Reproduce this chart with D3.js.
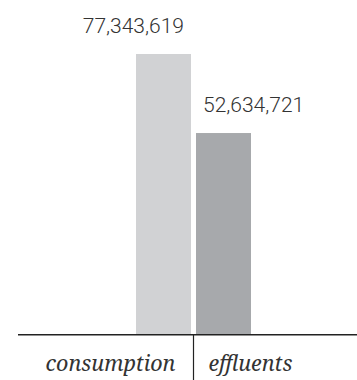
<!DOCTYPE html>
<html>
<head>
<meta charset="utf-8">
<script src="https://cdn.jsdelivr.net/npm/d3@7"></script>
<style>
  body { margin: 0; background: #fff; }
  .value { font-family: Roboto, "DejaVu Sans", sans-serif; font-weight: 300; font-size: 21px; fill: #333; }
  .cat { font-family: "Noto Serif", "DejaVu Serif", serif; font-style: italic; font-size: 21.5px; fill: #333; }
</style>
</head>
<body>
<div id="chart"></div>
<script>
// Chart data
const categories = ["consumption", "effluents"];
const values = [77343619, 52634721];
const barColors = ["#d1d2d4", "#a7a9ac"];
// value axis starts below zero in the original artwork
const yDomain = [-10200000, 77343619];

const width = 357, height = 380;
const baseY = 334;

const svg = d3.select("#chart").append("svg")
  .attr("width", width)
  .attr("height", height);

const x = d3.scaleBand()
  .domain(categories)
  .range([136, 251])
  .paddingInner(5 / 60)
  .paddingOuter(0);

const y = d3.scaleLinear()
  .domain(yDomain)
  .range([baseY, 54]);

// bars
svg.selectAll("rect.bar")
  .data(values)
  .enter()
  .append("rect")
  .attr("class", "bar")
  .attr("x", (d, i) => x(categories[i]))
  .attr("y", d => y(d))
  .attr("width", x.bandwidth())
  .attr("height", d => y(yDomain[0]) - y(d))
  .attr("fill", (d, i) => barColors[i]);

// value labels: first one sits to the left, second to the right
const fmt = d3.format(",");
svg.selectAll("text.value")
  .data(values)
  .enter()
  .append("text")
  .attr("class", "value")
  .attr("x", (d, i) => i === 0 ? x(categories[i]) + x.bandwidth() - 7 : x(categories[i]) + 7)
  .attr("y", d => y(d) - 21)
  .attr("text-anchor", (d, i) => i === 0 ? "end" : "start")
  .text(d => fmt(d));

// baseline
svg.append("line")
  .attr("x1", 18).attr("x2", width)
  .attr("y1", baseY + 0.75).attr("y2", baseY + 0.75)
  .attr("stroke", "#222")
  .attr("stroke-width", 1.5);

// divider between category labels
const divX = x(categories[1]) - x.step() * x.paddingInner() / 2;
svg.append("line")
  .attr("x1", divX).attr("x2", divX)
  .attr("y1", baseY).attr("y2", height)
  .attr("stroke", "#222")
  .attr("stroke-width", 1.2);

// category labels
svg.selectAll("text.cat")
  .data(categories)
  .enter()
  .append("text")
  .attr("class", "cat")
  .attr("x", (d, i) => i === 0 ? divX - 18 : divX + 15)
  .attr("y", 371)
  .attr("text-anchor", (d, i) => i === 0 ? "end" : "start")
  .text(d => d);
</script>
</body>
</html>
